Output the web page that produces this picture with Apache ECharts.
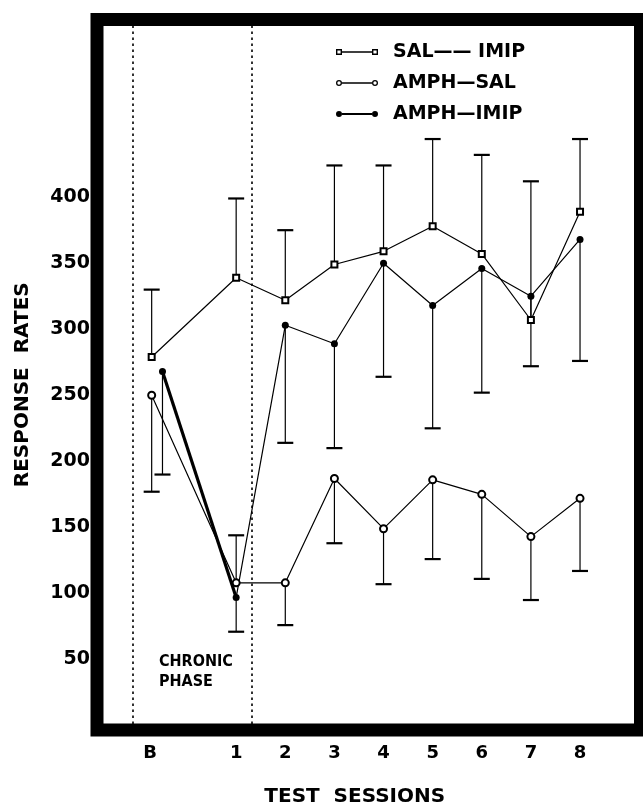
<!DOCTYPE html>
<html>
<head>
<meta charset="utf-8">
<script src="https://cdn.jsdelivr.net/npm/echarts@6/dist/echarts.min.js"></script>
<style>
    html, body { margin: 0; padding: 0; background: #fff; }
    #chart { width: 643px; height: 812px; }
</style>
</head>
<body>
<div id="chart"></div>
<script>
    // sessions: baseline (B) + test sessions 1-8
    var sessions = ['B', '1', '2', '3', '4', '5', '6', '7', '8'];
    var sessionX = [-0.72, 1, 2, 3, 4, 5, 6, 7, 8];
    var amphImipX = [-0.5, 1, 2, 3, 4, 5, 6, 7, 8];
    var labelX = [-0.75, 1, 2, 3, 4, 5, 6, 7, 8];
    var yTicks = [50, 100, 150, 200, 250, 300, 350, 400];
    var phaseLines = [-1.1, 1.32]; // chronic phase boundaries

    // SAL-IMIP (open squares), bar goes up
    var salImip = [279, 339, 322, 349, 359, 378, 357, 307, 389];
    var salImipErr = [330, 399, 375, 424, 424, 444, 432, 412, 444];
    // AMPH-SAL (open circles), bar end (B down, 1 up, rest down)
    var amphSal = [250, 108, 108, 187, 149, 186, 175, 143, 172];
    var amphSalErr = [177, 144, 76, 138, 107, 126, 111, 95, 117];
    // AMPH-IMIP (filled circles), bar goes down
    var amphImip = [268, 97, 303, 289, 350, 318, 346, 325, 368];
    var amphImipErr = [190, 71, 214, 210, 264, 225, 252, 272, 276];

    var names = ['SAL\u2014\u2014 IMIP', 'AMPH\u2014SAL', 'AMPH\u2014IMIP'];

    function pairs(xs, ys) {
        return ys.map(function (v, i) { return [xs[i], v]; });
    }
    function triples(xs, ys, es) {
        return ys.map(function (v, i) { return [xs[i], v, es[i]]; });
    }

    // vertical bar from the mean to one end + cap
    function errRender(params, api) {
        var p0 = api.coord([api.value(0), api.value(1)]);
        var p1 = api.coord([api.value(0), api.value(2)]);
        return {
            type: 'group',
            children: [
                { type: 'line', shape: { x1: p0[0], y1: p0[1], x2: p1[0], y2: p1[1] }, style: { stroke: '#000', lineWidth: 1.2 } },
                { type: 'line', shape: { x1: p1[0] - 8, y1: p1[1], x2: p1[0] + 8, y2: p1[1] }, style: { stroke: '#000', lineWidth: 2.2 } }
            ]
        };
    }

    var boldFont = 'DejaVu Sans';

    var option = {
        animation: false,
        backgroundColor: '#fff',
        grid: {
            left: 97, top: 19.5, right: 2.5, bottom: 73,
            show: true, borderColor: '#000', borderWidth: 13, backgroundColor: 'transparent'
        },
        legend: {
            orient: 'vertical',
            left: 331, top: 37,
            itemWidth: 42, itemHeight: 7, itemGap: 11,
            selectedMode: false,
            itemStyle: { color: '#000', borderWidth: 0 },
            textStyle: { fontFamily: boldFont, fontWeight: 'bold', fontSize: 19, color: '#000', lineHeight: 20, padding: [0, 0, 0, 10] },
            data: [
                { name: names[0], icon: 'path://M0 1H6V7H0Z M1.4 2.4V5.6H4.6V2.4Z M6 3.3H36V4.7H6Z M36 1H42V7H36Z M37.4 2.4V5.6H40.6V2.4Z' },
                { name: names[1], icon: 'path://M0 4A3 3 0 1 0 6 4A3 3 0 1 0 0 4Z M1.3 4A1.7 1.7 0 1 1 4.7 4A1.7 1.7 0 1 1 1.3 4Z M6 3.3H36V4.7H6Z M36 4A3 3 0 1 0 42 4A3 3 0 1 0 36 4Z M37.3 4A1.7 1.7 0 1 1 40.7 4A1.7 1.7 0 1 1 37.3 4Z' },
                { name: names[2], icon: 'path://M0 4A3 3 0 1 0 6 4A3 3 0 1 0 0 4Z M6 3.1H36V4.9H6Z M36 4A3 3 0 1 0 42 4A3 3 0 1 0 36 4Z' }
            ]
        },
        xAxis: {
            type: 'value',
            min: -1.833, max: 9.231,
            axisLine: { show: false }, axisTick: { show: false }, splitLine: { show: false },
            axisLabel: {
                customValues: labelX,
                margin: 14,
                fontFamily: boldFont, fontWeight: 'bold', fontSize: 18, color: '#000',
                formatter: function (v) {
                    var i = labelX.indexOf(v);
                    return i >= 0 ? sessions[i] : '';
                }
            },
            name: 'TEST  SESSIONS',
            nameLocation: 'middle',
            nameGap: 57,
            nameTextStyle: { fontFamily: boldFont, fontWeight: 'bold', fontSize: 20, color: '#000', padding: [0, 28, 0, 0] }
        },
        yAxis: {
            type: 'value',
            min: -3.4, max: 534.5,
            axisLine: { show: false }, axisTick: { show: false }, splitLine: { show: false },
            axisLabel: {
                customValues: yTicks,
                margin: 7,
                fontFamily: boldFont, fontWeight: 'bold', fontSize: 19, color: '#000'
            },
            name: 'RESPONSE  RATES',
            nameLocation: 'middle',
            nameRotate: 90,
            nameGap: 64,
            nameTextStyle: { fontFamily: boldFont, fontWeight: 'bold', fontSize: 20, color: '#000', padding: [0, 20, 0, 0] }
        },
        graphic: [{
            type: 'text', left: 159, top: 652,
            style: { text: 'CHRONIC\nPHASE', fontFamily: 'DejaVu Sans Condensed', fontWeight: 'bold', fontSize: 16, lineHeight: 20, fill: '#000' }
        }],
        series: [
            { type: 'custom', z: 2, silent: true, renderItem: errRender, encode: { x: 0, y: [1, 2] }, data: triples(sessionX, salImip, salImipErr) },
            { type: 'custom', z: 2, silent: true, renderItem: errRender, encode: { x: 0, y: [1, 2] }, data: triples(sessionX, amphSal, amphSalErr) },
            { type: 'custom', z: 2, silent: true, renderItem: errRender, encode: { x: 0, y: [1, 2] }, data: triples(amphImipX, amphImip, amphImipErr) },
            {
                name: 'heavy', type: 'line', z: 3, silent: true, symbol: 'none',
                lineStyle: { color: '#000', width: 3.2 },
                data: pairs(amphImipX, amphImip).slice(0, 2)
            },
            {
                name: names[2], type: 'line', z: 3, symbol: 'circle', symbolSize: 7,
                lineStyle: { color: '#000', width: 1.2 },
                itemStyle: { color: '#000' },
                data: pairs(amphImipX, amphImip)
            },
            {
                name: names[1], type: 'line', z: 4, symbol: 'emptyCircle', symbolSize: 7,
                lineStyle: { color: '#000', width: 1.2 },
                itemStyle: { color: '#000', borderWidth: 1.2 },
                data: pairs(sessionX, amphSal)
            },
            {
                name: names[0], type: 'line', z: 4, symbol: 'emptyRect', symbolSize: 6,
                lineStyle: { color: '#000', width: 1.2 },
                itemStyle: { color: '#000', borderWidth: 1.2 },
                data: pairs(sessionX, salImip),
                markLine: {
                    silent: true, symbol: 'none',
                    label: { show: false },
                    lineStyle: { color: '#000', width: 1.6, type: [2.5, 3.5] },
                    data: phaseLines.map(function (x) { return { xAxis: x }; })
                }
            }
        ]
    };

    echarts.init(document.getElementById('chart')).setOption(option);
</script>
</body>
</html>
